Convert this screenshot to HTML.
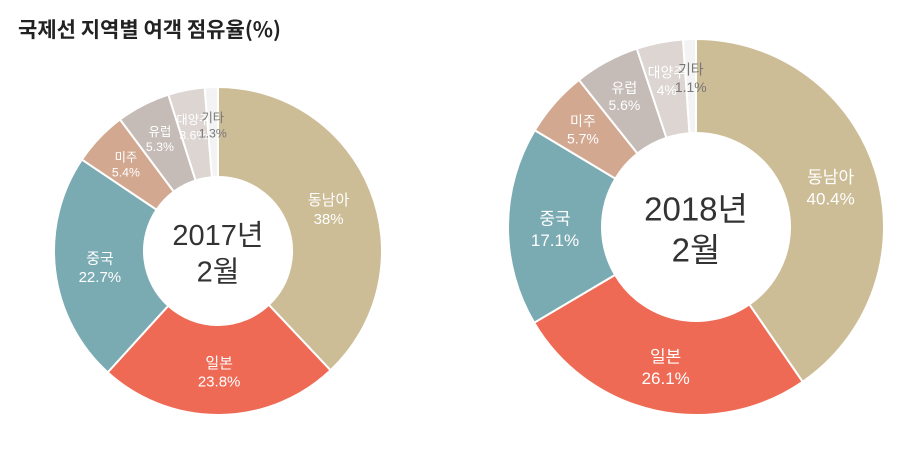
<!DOCTYPE html>
<html><head><meta charset="utf-8">
<style>
body{margin:0;background:#fff;width:900px;height:451px;overflow:hidden;font-family:"Liberation Sans","Noto Sans CJK KR",sans-serif;}
#title{position:absolute;left:18px;top:14px;font-size:21px;font-weight:bold;color:#222;font-family:"Noto Sans CJK KR","NanumGothic",sans-serif;}
svg{position:absolute;left:0;top:0;}
</style></head><body>
<div id="title">국제선 지역별 여객 점유율(%)</div>
<svg id="chart" width="900" height="451"></svg>
<script>
const categories=["동남아","일본","중국","미주","유럽","대양주","기타"];
const values2017=[38,23.8,22.7,5.4,5.3,3.6,1.3];
const values2018=[40.4,26.1,17.1,5.7,5.6,4,1.1];
const colors=["#cdbd97","#ef6a55","#7aabb3","#d3a891","#c5bcb7","#dcd5d1","#f3f3f3"];
const labelColors=["#fff","#fff","#fff","#fff","#fff","#fff","#777"];
const NS="http://www.w3.org/2000/svg";
const svg=document.getElementById('chart');
function mk(t,a){const e=document.createElementNS(NS,t);for(const k in a)e.setAttribute(k,a[k]);return e;}
function drawDonut(vals,cx,cy,ro,ri,fs,year,cfs,key){
  const g=mk('g',{});
  
  
  svg.appendChild(g);
  const total=vals.reduce((a,b)=>a+b,0);
  let a0=0;
  vals.forEach((v,i)=>{
    const a1=a0+v/total*Math.PI*2;
    const p=(r,a)=>[cx+r*Math.sin(a),cy-r*Math.cos(a)];
    const large=(a1-a0)>Math.PI?1:0;
    const [x1,y1]=p(ro,a0),[x2,y2]=p(ro,a1),[x3,y3]=p(ri,a1),[x4,y4]=p(ri,a0);
    const path=mk('path',{d:`M${x1},${y1}A${ro},${ro} 0 ${large} 1 ${x2},${y2}L${x3},${y3}A${ri},${ri} 0 ${large} 0 ${x4},${y4}Z`,fill:colors[i],stroke:'#fff','stroke-width':2});
    
    
    g.appendChild(path);
    const am=(a0+a1)/2;
    const lr=(ro+ri)/2+(v<8?ro*0.05:0);
    const [lx,ly]=p(lr,am);
    const small=v<8;
    const f=small?fs*0.82:fs;
    const t=mk('text',{x:lx,y:ly-2,'text-anchor':'middle','font-size':f,fill:labelColors[i]});
    
    
    const s1=mk('tspan',{x:lx,dy:0});s1.textContent=categories[i];
    const s2=mk('tspan',{x:lx,dy:f*1.25});s2.textContent=v+'%';
    t.appendChild(s1);t.appendChild(s2);g.appendChild(t);
    a0=a1;
  });
  const c1=mk('text',{x:cx,y:cy-cfs*0.2,'text-anchor':'middle','font-size':cfs,fill:'#333'});
  
  
  c1.textContent=year+'년';g.appendChild(c1);
  const c2=mk('text',{x:cx,y:cy+cfs*1.05,'text-anchor':'middle','font-size':cfs,fill:'#333'});
  
  
  c2.textContent='2월';g.appendChild(c2);
}
drawDonut(values2017,218,251,164,74,15,2017,29,'2017');
drawDonut(values2018,696,227,188,94,17,2018,33,'2018');
</script>
</body></html>
